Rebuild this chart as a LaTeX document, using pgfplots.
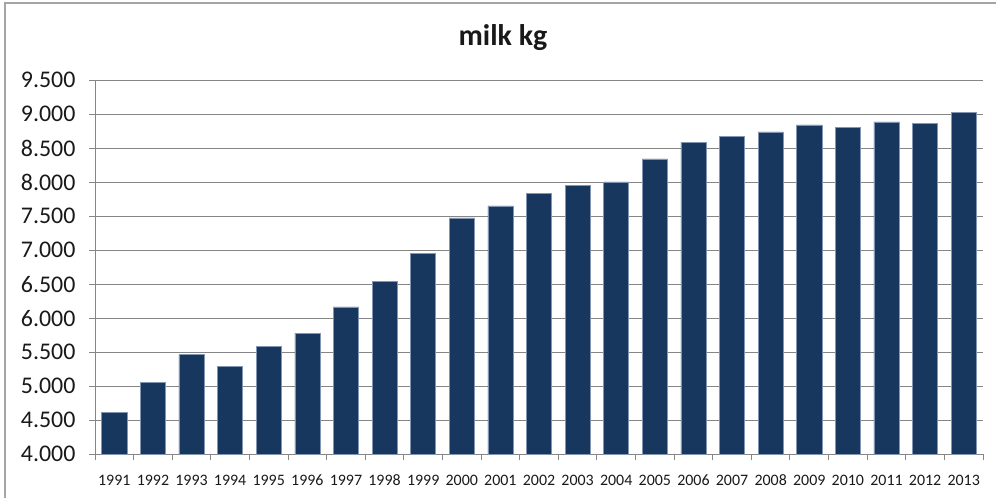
\documentclass[border=0pt]{standalone}
\usepackage{fontspec}
\setmainfont{Carlito}
\usepackage{pgfplots}
\pgfplotsset{compat=1.18}
\definecolor{barc}{RGB}{23,55,94}
\definecolor{baredge}{RGB}{130,150,180}
\definecolor{gridc}{RGB}{134,134,134}
\definecolor{framec}{RGB}{165,165,165}
\begin{document}
\begin{tikzpicture}[x=1bp,y=-1bp]
\path[use as bounding box] (0,0) rectangle (996,498);
\draw[framec,line width=1.5bp] (5,498) -- (5,3) -- (996,3);
\node[font=\fontsize{30}{30}\selectfont\bfseries,anchor=base,text=black!90] at (503,46) {milk kg};
\begin{axis}[
  at={(95bp,-454.3bp)}, anchor=south west,
  scale only axis, width=888bp, height=374.3bp,
  xmin=-0.5, xmax=22.5, ymin=4000, ymax=9500,
  ytick={4000,4500,...,9500},
  ymajorgrids, grid style={gridc,line width=1bp},
  axis line style={gridc,line width=1bp},
  axis x line*=bottom, axis y line*=left,
  tick align=outside, major tick length=6bp,
  tick style={gridc,line width=1bp},
  xtick={-0.5,0.5,...,22.5}, xticklabels={},
  extra x ticks={0,...,22},
  extra x tick labels={1991,1992,1993,1994,1995,1996,1997,1998,1999,2000,2001,2002,2003,2004,2005,2006,2007,2008,2009,2010,2011,2012,2013},
  extra x tick style={major tick length=0pt, tick style={draw=none},
    xticklabel style={font=\fontsize{16}{16}\selectfont, text=black!90, yshift=-17bp}},
  yticklabel style={font=\fontsize{24}{24}\selectfont, text=black!90, xshift=-10bp},
  /pgf/number format/.cd, assume math mode=true, 1000 sep={.}, fixed,
]
\addplot[ybar, bar width=0.65, fill=barc, draw=baredge, line width=0.6bp] coordinates {
(0,4616) (1,5061) (2,5466) (3,5295) (4,5584) (5,5779) (6,6165) (7,6546) (8,6947) (9,7475) (10,7651) (11,7835) (12,7949) (13,8003) (14,8340) (15,8589) (16,8668) (17,8736) (18,8839) (19,8800) (20,8883) (21,8868) (22,9020)
};
\end{axis}
\end{tikzpicture}
\end{document}
